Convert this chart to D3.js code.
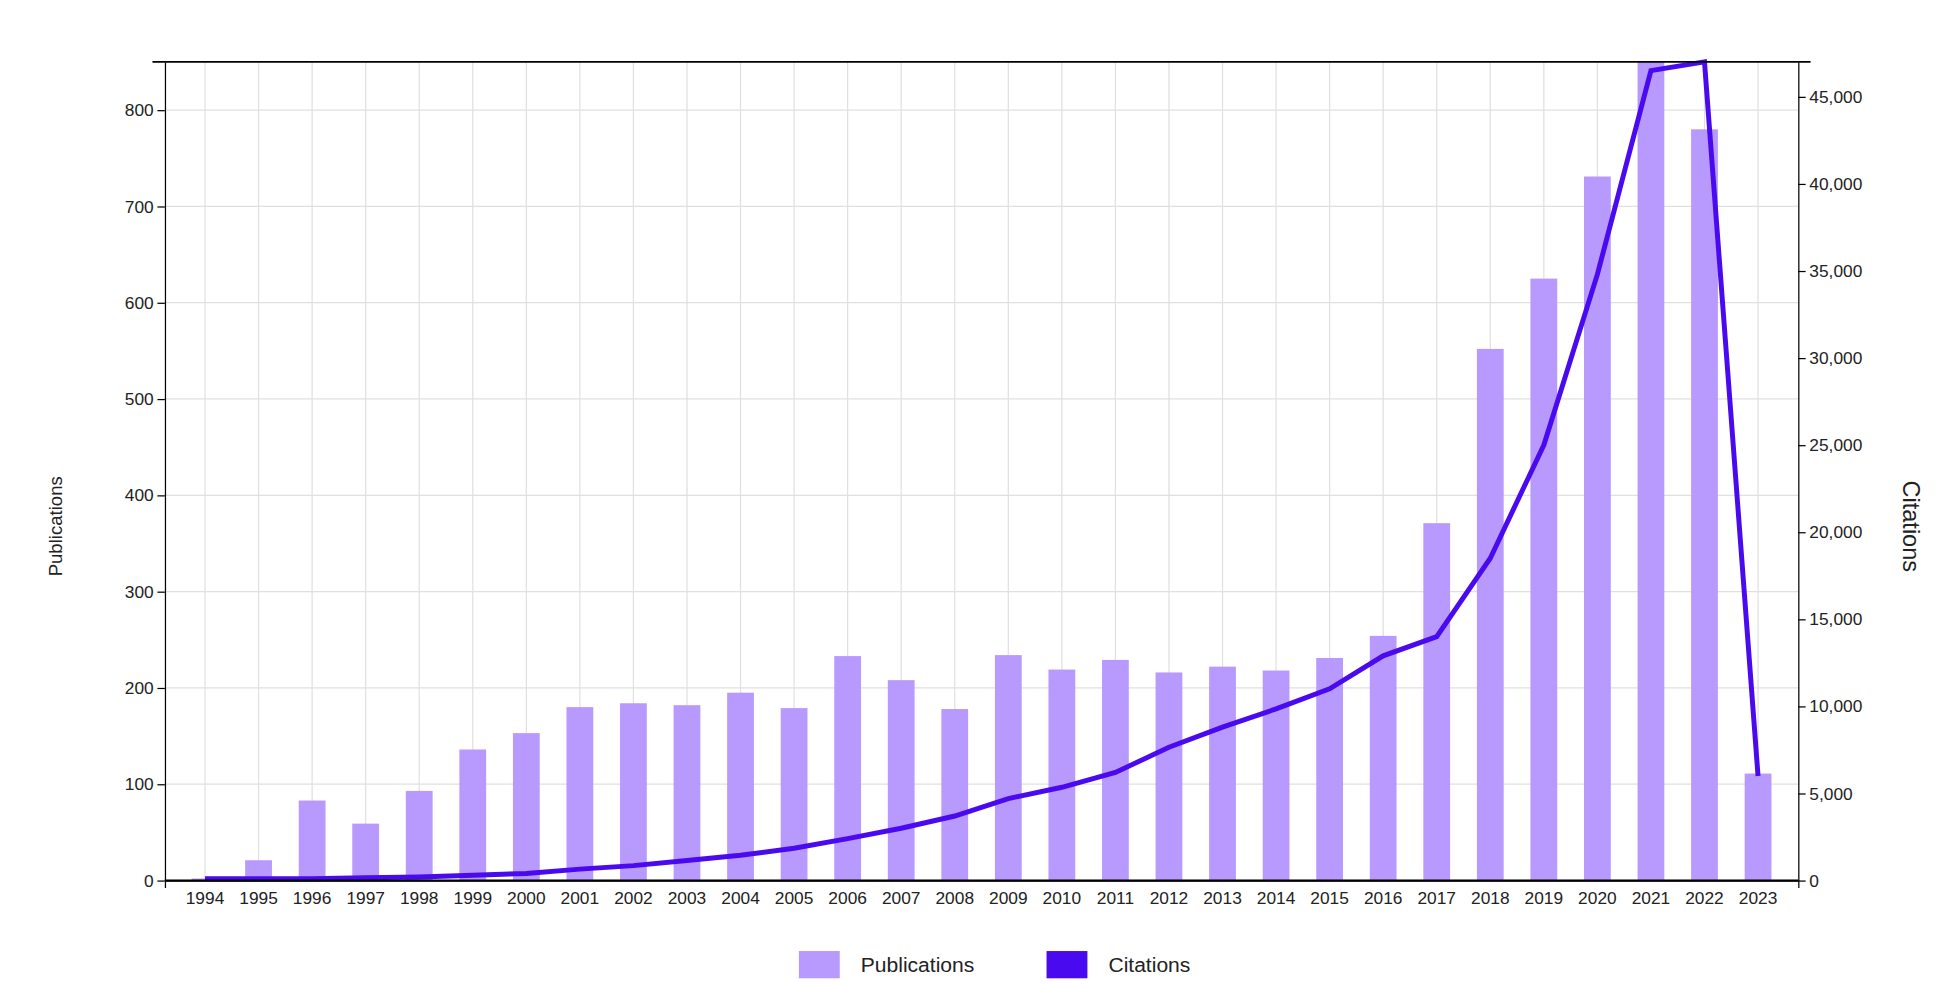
<!DOCTYPE html><html><head><meta charset="utf-8">
<script src="https://cdn.jsdelivr.net/npm/d3@7"></script>
<style>body{margin:0;background:#fff}text{font-family:Arial,"Liberation Sans",sans-serif}</style></head><body>
<svg id="c" width="1942" height="982" viewBox="0 0 1568 793"></svg>
<script>
const years=["1994","1995","1996","1997","1998","1999","2000","2001","2002","2003","2004","2005","2006","2007","2008","2009","2010","2011","2012","2013","2014","2015","2016","2017","2018","2019","2020","2021","2022","2023"];
const publications=[2,21,83,59,93,136,153,180,184,182,195,179,233,208,178,234,219,229,216,222,218,231,254,371,552,625,731,860,780,111];
const citations=[100,100,100,150,200,300,400,650,850,1150,1450,1850,2400,3000,3700,4700,5350,6200,7650,8800,9850,11000,12900,14000,18500,25000,34800,46500,47000,6000];
const leftTicks=[0,100,200,300,400,500,600,700,800];
const rightTicks=[0,5000,10000,15000,20000,25000,30000,35000,40000,45000];
const L=133,R=1452,T=50,B=711;
const svg=d3.select("#c");
const x=d3.scaleBand().domain(years).range([L,R]).padding(0.5);
const y=d3.scaleLinear().domain([0,850]).range([B,T]);
const y2=d3.scaleLinear().domain([0,47000]).range([B,T]);
svg.append("defs").append("clipPath").attr("id","cp").append("rect").attr("x",L).attr("y",T).attr("width",R-L).attr("height",B-T);
const g=svg.append("g");
g.selectAll(".hg").data(leftTicks).join("line").attr("x1",L).attr("x2",R).attr("y1",d=>y(d)).attr("y2",d=>y(d)).attr("stroke","#e0e0e0");
g.selectAll(".vg").data(years).join("line").attr("x1",d=>x(d)+x.bandwidth()/2).attr("x2",d=>x(d)+x.bandwidth()/2).attr("y1",T).attr("y2",B).attr("stroke","#e0e0e0");
const cg=svg.append("g").attr("clip-path","url(#cp)");
cg.selectAll("rect.b").data(publications).join("rect").attr("x",(d,i)=>x(years[i])).attr("width",x.bandwidth()).attr("y",d=>y(d)).attr("height",d=>B-y(d)).attr("fill","#b899fd");
svg.append("path").datum(citations).attr("fill","none").attr("stroke","#4a0af0").attr("stroke-width",4)
 .attr("d",d3.line().x((d,i)=>x(years[i])+x.bandwidth()/2).y(d=>y2(d)));
const st=s=>s.selectAll("text").attr("font-size",14).attr("fill","#222");
st(svg.append("g").attr("transform",`translate(${L},0)`).call(d3.axisLeft(y).tickValues(leftTicks).tickSizeOuter(0)));
st(svg.append("g").attr("transform",`translate(${R},0)`).call(d3.axisRight(y2).tickValues(rightTicks).tickSizeOuter(0)));
const xa=svg.append("g").attr("transform",`translate(0,${B})`).call(d3.axisBottom(x).tickSizeOuter(6));
st(xa);xa.selectAll(".tick line").remove();
xa.selectAll(".tick").each(function(){});
svg.append("line").attr("x1",123).attr("x2",1462).attr("y1",T).attr("y2",T).attr("stroke","#000").attr("stroke-width",1.5);
svg.append("line").attr("x1",L).attr("x2",R).attr("y1",B).attr("y2",B).attr("stroke","#000").attr("stroke-width",1.5);
svg.append("text").attr("transform","translate(50,425) rotate(-90)").attr("text-anchor","middle").attr("font-size",15).attr("fill","#222").text("Publications");
svg.append("text").attr("transform","translate(1537,425) rotate(90)").attr("text-anchor","middle").attr("font-size",19).attr("fill","#222").text("Citations");
const leg=[["Publications","#b899fd",645],["Citations","#4a0af0",845]];
leg.forEach(([t,c,lx])=>{svg.append("rect").attr("x",lx).attr("y",768).attr("width",33).attr("height",22).attr("fill",c);
svg.append("text").attr("x",lx+50).attr("y",785).attr("font-size",17).attr("fill","#222").text(t);});
</script></body></html>
